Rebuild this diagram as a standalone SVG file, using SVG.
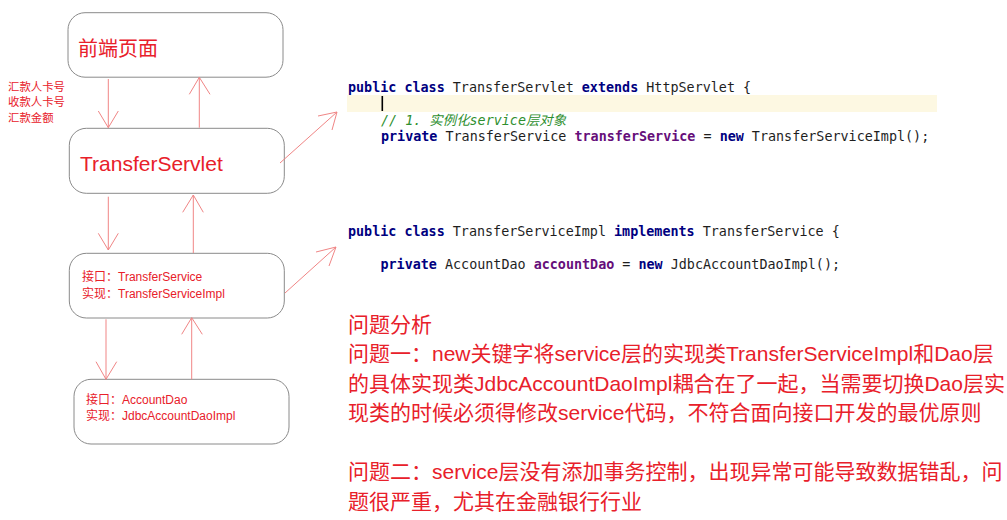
<svg xmlns="http://www.w3.org/2000/svg" width="1007" height="520" viewBox="0 0 1007 520">
<defs>
<style>
.box{fill:#fff;stroke:#8a8a8a;stroke-width:1}
.red{fill:#e8202a;font-family:"Liberation Sans","Noto Sans CJK SC",sans-serif}
.big{font-size:21px}
.conn line,.conn polyline{stroke:#f08585;stroke-width:1;fill:none}
.code{font-family:"DejaVu Sans Mono","Noto Sans CJK SC",monospace;font-size:13.4px;fill:#1e1e1e}
.kw{fill:#000080;font-weight:bold}
.fld{fill:#660e7a;font-weight:bold}
.cm{fill:#2f8f2f;font-style:italic}
</style>
</defs>
<rect width="1007" height="520" fill="#fff"/>

<g id="node-frontend">
<rect class="box" x="68" y="12.7" width="215" height="64.5" rx="17"/>
<text class="red" x="78" y="55.5" font-size="20">前端页面</text>
</g>
<g id="node-servlet">
<rect class="box" x="69.3" y="128.3" width="215" height="65" rx="17"/>
<text class="red" x="80" y="170.5" font-size="21">TransferServlet</text>
</g>
<g id="node-service">
<rect class="box" x="69.3" y="253.3" width="215" height="64.7" rx="17"/>
<text class="red" x="82" y="281" font-size="12">接口：TransferService</text>
<text class="red" x="82" y="297.5" font-size="12">实现：TransferServiceImpl</text>
</g>
<g id="node-dao">
<rect class="box" x="74" y="379.3" width="215" height="64.7" rx="17"/>
<text class="red" x="86" y="403.5" font-size="12">接口：AccountDao</text>
<text class="red" x="86" y="420" font-size="12">实现：JdbcAccountDaoImpl</text>
</g>

<g id="params">
<text class="red" x="8" y="90.5" font-size="11.4">汇款人卡号</text>
<text class="red" x="8" y="106" font-size="11.4">收款人卡号</text>
<text class="red" x="8" y="122" font-size="11.4">汇款金额</text>
</g>

<g id="connectors" class="conn">
<line x1="108.3" y1="79" x2="108.3" y2="127.7"/>
<polyline points="98.3,111 108.3,127.7 118.3,111"/>
<line x1="199.3" y1="127.7" x2="199.3" y2="77.3"/>
<polyline points="189.3,94.3 199.3,77.3 210,94.3"/>
<line x1="108.3" y1="196.7" x2="108.3" y2="250"/>
<polyline points="98.3,233.3 108.3,250 118.3,233.3"/>
<line x1="193.3" y1="253" x2="193.3" y2="195"/>
<polyline points="182.7,212.3 193.3,195 203.3,212.3"/>
<line x1="106" y1="319.3" x2="106" y2="379.3"/>
<polyline points="96,361.7 106,379.3 116.7,361.7"/>
<line x1="191.7" y1="379.3" x2="191.7" y2="317.7"/>
<polyline points="181.7,334.3 191.7,317.7 202.3,334.3"/>
<line x1="280" y1="163" x2="337" y2="112"/>
<polyline points="318,116 337,112 332,130"/>
<line x1="285" y1="293" x2="336" y2="247"/>
<polyline points="316,252 336,247 329,266"/>
</g>

<g id="code-servlet">
<rect x="347" y="95" width="590" height="17" fill="#fdf8e2"/>
<rect x="381.5" y="96" width="1.6" height="15" fill="#000"/>
<text class="code" x="348" y="92"><tspan class="kw">public class</tspan> TransferServlet <tspan class="kw">extends</tspan> HttpServlet {</text>
<text class="code" x="381" y="124.5"><tspan class="cm">// 1. 实例化service层对象</tspan></text>
<text class="code" x="381" y="141"><tspan class="kw">private</tspan> TransferService <tspan class="fld">transferService</tspan> = <tspan class="kw">new</tspan> TransferServiceImpl();</text>
</g>

<g id="code-service">
<text class="code" x="348" y="236"><tspan class="kw">public class</tspan> TransferServiceImpl <tspan class="kw">implements</tspan> TransferService {</text>
<text class="code" x="380.5" y="269"><tspan class="kw">private</tspan> AccountDao <tspan class="fld">accountDao</tspan> = <tspan class="kw">new</tspan> JdbcAccountDaoImpl();</text>
</g>

<g id="analysis">
<text class="red big" x="348" y="331.5">问题分析</text>
<text class="red big" x="348" y="361">问题一：new关键字将service层的实现类TransferServiceImpl和Dao层</text>
<text class="red big" x="348" y="390.5">的具体实现类JdbcAccountDaoImpl耦合在了一起，当需要切换Dao层实</text>
<text class="red big" x="348" y="420">现类的时候必须得修改service代码，不符合面向接口开发的最优原则</text>
<text class="red big" x="348" y="479">问题二：service层没有添加事务控制，出现异常可能导致数据错乱，问</text>
<text class="red big" x="348" y="508.5">题很严重，尤其在金融银行行业</text>
</g>
</svg>
